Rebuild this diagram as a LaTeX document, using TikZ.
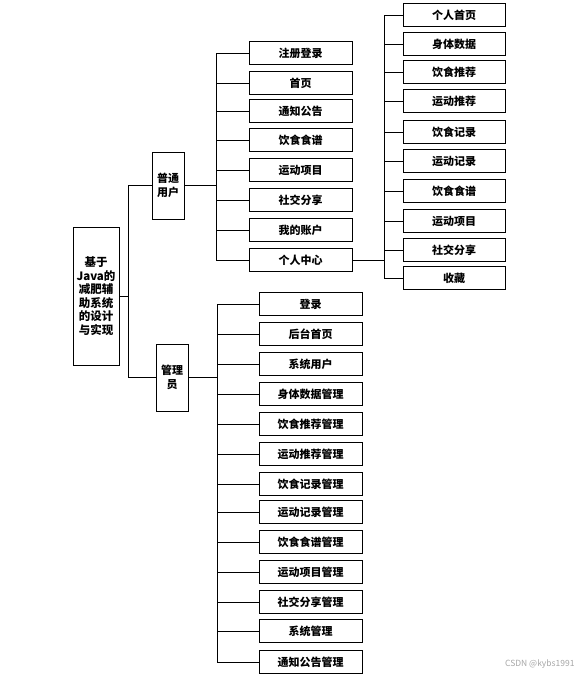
\documentclass[tikz,border=0pt]{standalone}
\usepackage{fontspec}
\setmainfont{Noto Sans CJK SC}
\usepackage{tikz}

\begin{document}
\begin{tikzpicture}[x=1pt,y=-1pt,
    box/.style={draw,line width=1pt,inner sep=0pt,font=\fontsize{11pt}{13.5pt}\selectfont\bfseries,align=center},
    item/.style={box,minimum width=103pt,minimum height=23pt},
    sub/.style={box,minimum width=102pt,minimum height=23pt},
    vbox/.style={box,minimum width=32pt,minimum height=67pt},
    link/.style={line width=0.9pt}]
    \useasboundingbox (0,0) rectangle (581,677);

    % root and the two roles
    \node[box,minimum width=46pt,minimum height=138pt,font=\fontsize{11.5pt}{13.5pt}\selectfont\bfseries] (root) at (96,296) {基于\\Java的\\减肥辅\\助系统\\的设计\\与实现};
    \node[vbox] (user) at (168,185.5) {普通\\用户};
    \node[vbox] (admin) at (172,377.5) {管理\\员};

    \coordinate (rootb) at (128,296);
    \coordinate (ub) at (216,185.5);
    \coordinate (pb) at (384,260);
    \coordinate (ab) at (217,377.5);

    % user modules
    \node[item] (u1) at (300.5,53) {注册登录};
    \node[item] (u2) at (300.5,83) {首页};
    \node[item] (u3) at (300.5,111) {通知公告};
    \node[item] (u4) at (300.5,140) {饮食食谱};
    \node[item] (u5) at (300.5,170) {运动项目};
    \node[item] (u6) at (300.5,200) {社交分享};
    \node[item] (u7) at (300.5,230) {我的账户};
    \node[item] (u8) at (300.5,260) {个人中心};

    % personal centre
    \node[sub] (p1) at (454,15) {个人首页};
    \node[sub] (p2) at (454,44) {身体数据};
    \node[sub] (p3) at (454,72) {饮食推荐};
    \node[sub] (p4) at (454,101) {运动推荐};
    \node[sub] (p5) at (454,132) {饮食记录};
    \node[sub] (p6) at (454,161) {运动记录};
    \node[sub] (p7) at (454,191) {饮食食谱};
    \node[sub] (p8) at (454,221) {运动项目};
    \node[sub] (p9) at (454,250) {社交分享};
    \node[sub] (p10) at (454,278) {收藏};

    % admin modules
    \node[item] (a1) at (310.5,304) {登录};
    \node[item] (a2) at (310.5,334) {后台首页};
    \node[item] (a3) at (310.5,364) {系统用户};
    \node[item] (a4) at (310.5,394) {身体数据管理};
    \node[item] (a5) at (310.5,424) {饮食推荐管理};
    \node[item] (a6) at (310.5,454) {运动推荐管理};
    \node[item] (a7) at (310.5,484) {饮食记录管理};
    \node[item] (a8) at (310.5,512) {运动记录管理};
    \node[item] (a9) at (310.5,542) {饮食食谱管理};
    \node[item] (a10) at (310.5,572) {运动项目管理};
    \node[item] (a11) at (310.5,602) {社交分享管理};
    \node[item] (a12) at (310.5,631) {系统管理};
    \node[item] (a13) at (310.5,662) {通知公告管理};

    \draw[link] (root.east) -- (rootb);
    \draw[link] (rootb) |- (user.west);
    \draw[link] (rootb) |- (admin.west);

    \draw[link] (user.east) -- (ub);
    \draw[link] (ub) |- (u1.west);
    \draw[link] (ub) |- (u2.west);
    \draw[link] (ub) |- (u3.west);
    \draw[link] (ub) |- (u4.west);
    \draw[link] (ub) |- (u5.west);
    \draw[link] (ub) |- (u6.west);
    \draw[link] (ub) |- (u7.west);
    \draw[link] (ub) |- (u8.west);

    \draw[link] (u8.east) -- (pb);
    \draw[link] (pb) |- (p1.west);
    \draw[link] (pb) |- (p2.west);
    \draw[link] (pb) |- (p3.west);
    \draw[link] (pb) |- (p4.west);
    \draw[link] (pb) |- (p5.west);
    \draw[link] (pb) |- (p6.west);
    \draw[link] (pb) |- (p7.west);
    \draw[link] (pb) |- (p8.west);
    \draw[link] (pb) |- (p9.west);
    \draw[link] (pb) |- (p10.west);

    \draw[link] (admin.east) -- (ab);
    \draw[link] (ab) |- (a1.west);
    \draw[link] (ab) |- (a2.west);
    \draw[link] (ab) |- (a3.west);
    \draw[link] (ab) |- (a4.west);
    \draw[link] (ab) |- (a5.west);
    \draw[link] (ab) |- (a6.west);
    \draw[link] (ab) |- (a7.west);
    \draw[link] (ab) |- (a8.west);
    \draw[link] (ab) |- (a9.west);
    \draw[link] (ab) |- (a10.west);
    \draw[link] (ab) |- (a11.west);
    \draw[link] (ab) |- (a12.west);
    \draw[link] (ab) |- (a13.west);

    \node[text=black!35,font=\fontsize{8.5pt}{10pt}\selectfont,anchor=east] (mark) at (578,664) {CSDN @kybs1991};
\end{tikzpicture}
\end{document}
